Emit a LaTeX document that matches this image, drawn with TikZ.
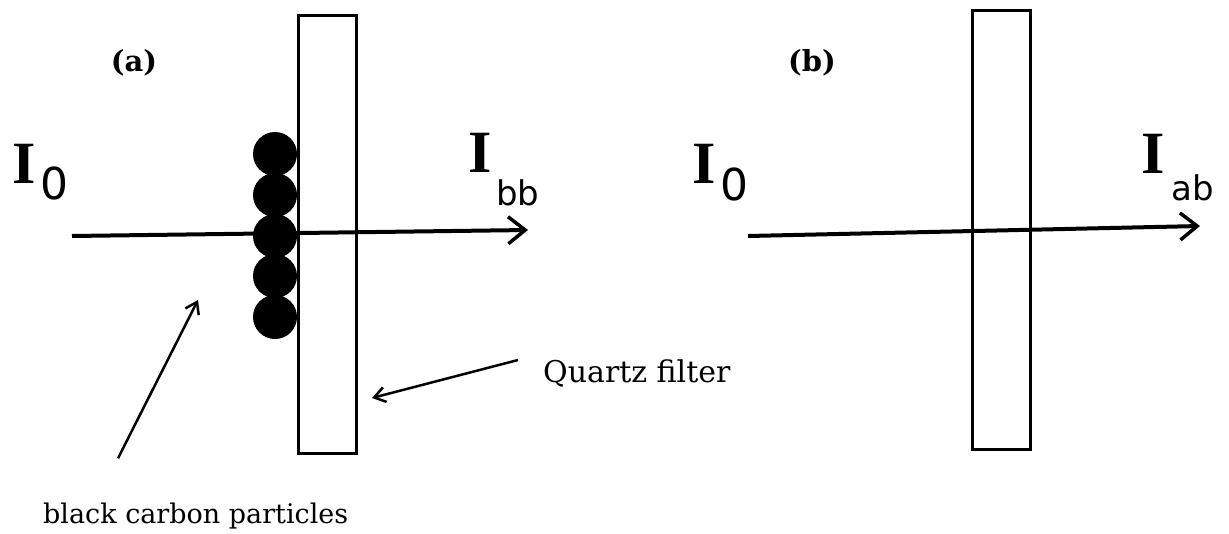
\documentclass[tikz,border=0pt]{standalone}
\usepackage{fontspec}
\setmainfont{DejaVu Serif}
\newfontfamily\idxfont{DejaVu Sans}
\newfontfamily\bigIfont{Liberation Serif}
\usetikzlibrary{arrows.meta}
\definecolor{ink}{HTML}{000000}

\begin{document}
\begin{tikzpicture}[x=1pt, y=-1pt,
  beam/.style={draw=ink, line width=4pt, -{Straight Barb[length=17pt, width=27pt, line width=3.5pt]}},
  pointer/.style={draw=ink, line width=2.5pt, -{Straight Barb[length=11pt, width=15pt, line width=2.5pt]}},
  filterbox/.style={draw=ink, line width=3pt, minimum width=58pt, inner sep=0pt},
  intens/.style={font=\bigIfont\bfseries\fontsize{60}{60}\selectfont, inner sep=0pt, anchor=base west},
  lowidx/.style={font=\idxfont\fontsize{34}{34}\selectfont, inner sep=0pt, anchor=base west},
  panel/.style={font=\bfseries\fontsize{29}{29}\selectfont, inner sep=0pt},
  caption/.style={inner sep=0pt, anchor=base west}]
  \useasboundingbox (0,0) rectangle (1229,533);
  \node[filterbox, minimum height=438pt] (fa) at (327,234) {};
  \node[filterbox, minimum height=439pt] (fb) at (1001.5,229.5) {};
  \node[panel] (pa) at (134,63) {(a)};
  \node[panel] (pb) at (812,63) {(b)};
  \node[intens] (Ia) at (12,183) {I};
  \node[lowidx, font=\idxfont\fontsize{44}{44}\selectfont] (Ia0) at (40,199) {0};
  \node[intens] (Ibb) at (468,172) {I};
  \node[lowidx] (bb) at (496,205) {bb};
  \node[intens] (Ib) at (692,183) {I};
  \node[lowidx, font=\idxfont\fontsize{44}{44}\selectfont] (Ib0) at (720,200) {0};
  \node[intens] (Iab) at (1141,173) {I};
  \node[lowidx] (ab) at (1171,200) {ab};
  \coordinate (srca) at (72,236);
  \coordinate (dsta) at (528,230);
  \coordinate (srcb) at (748,236);
  \coordinate (dstb) at (1200,226);
  \draw[beam] (srca) -- (dsta);
  \draw[beam] (srcb) -- (dstb);
  \foreach \y in {154,195,236,276,317} {
    \fill[ink] (275,\y) circle (22pt);
  }
  \node[caption, font=\fontsize{30}{30}\selectfont] (quartz) at (543,382) {Quartz filter};
  \node[caption, font=\fontsize{27}{27}\selectfont] (bc) at (43,523) {black carbon particles};
  \coordinate (qtip) at (372,398);
  \coordinate (bctip) at (198,300);
  \draw[pointer] ([shift={(-25pt,13pt)}]quartz.west) -- (qtip);
  \draw[pointer] ([shift={(75pt,44pt)}]bc.north west) -- (bctip);
\end{tikzpicture}
\end{document}
